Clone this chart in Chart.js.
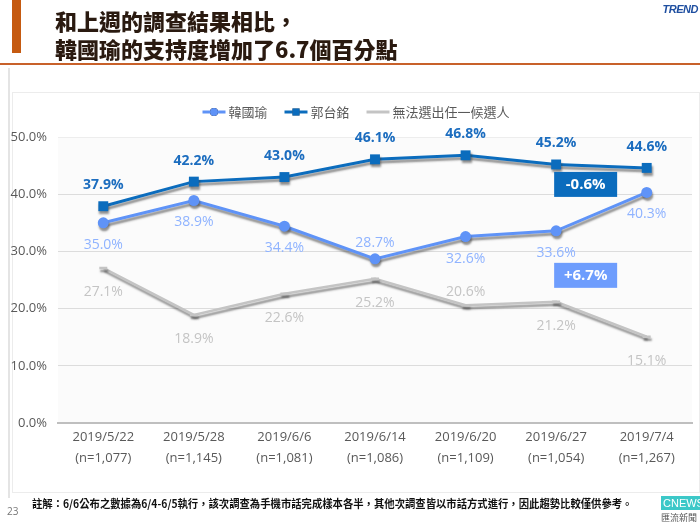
<!DOCTYPE html>
<html>
<head>
<meta charset="utf-8">
<script src="https://cdn.jsdelivr.net/npm/chart.js@4"></script>
<style>
  html, body { margin: 0; padding: 0; background: #fff; }
  body { width: 700px; height: 522px; position: relative; overflow: hidden; font-family: 'Noto Sans CJK TC', sans-serif; }
  #chart { position: absolute; left: 0; top: 0; width: 700px; height: 522px; }
  .bar { position: absolute; left: 12px; top: 0; width: 9px; height: 53px; background: #c55a11; }
  .rule { position: absolute; left: 0; top: 63px; width: 700px; height: 2px; background: #c8612a; }
  .edge { position: absolute; left: 8px; top: 68px; width: 2px; height: 430px; background: #e4e4e4; }
  .title { position: absolute; left: 55px; top: 6px; font-size: 22px; font-weight: 900; line-height: 28px; color: #2a1a10; }
  .logo { position: absolute; right: 2px; top: 3px; font: italic 900 11px 'Liberation Sans', sans-serif; color: #1f4fa0; letter-spacing: -0.5px; }
  .note { position: absolute; left: 32px; top: 495px; font-size: 11px; font-weight: 700; color: #111; white-space: nowrap; transform: scaleX(0.94); transform-origin: left top; }
  .page { position: absolute; left: 7px; top: 504px; font: 10px 'Open Sans', sans-serif; color: #777; }
  .cnews { position: absolute; left: 661px; top: 496px; width: 39px; height: 14px; background: #3cc8c8; color: #fff; font: 11px 'Liberation Sans', sans-serif; line-height: 14px; padding-left: 2px; }
  .cnews2 { position: absolute; left: 661px; top: 511px; font-size: 9px; color: #555; }
</style>
</head>
<body>
<canvas id="chart" width="700" height="522"></canvas>
<div class="bar"></div>
<div class="rule"></div>
<div class="edge"></div>
<div class="title">和上週的調查結果相比，<br>韓國瑜的支持度增加了6.7個百分點</div>
<div class="logo">TREND</div>
<div class="note">註解：6/6公布之數據為6/4-6/5執行，該次調查為手機市話完成樣本各半，其他次調查皆以市話方式進行，因此趨勢比較僅供參考。</div>
<div class="page">23</div>
<div class="cnews">CNEWS</div>
<div class="cnews2">匯流新聞網</div>
<script>
// survey dates and sample sizes
const dates = ['2019/5/22', '2019/5/28', '2019/6/6', '2019/6/14', '2019/6/20', '2019/6/27', '2019/7/4'];
const samples = ['(n=1,077)', '(n=1,145)', '(n=1,081)', '(n=1,086)', '(n=1,109)', '(n=1,054)', '(n=1,267)'];

// support, %
const han = [35.0, 38.9, 34.4, 28.7, 32.6, 33.6, 40.3];
const kuo = [37.9, 42.2, 43.0, 46.1, 46.8, 45.2, 44.6];
const none = [27.1, 18.9, 22.6, 25.2, 20.6, 21.2, 15.1];

const seriesNames = ['韓國瑜', '郭台銘', '無法選出任一候選人'];
const yTicks = [0, 10, 20, 30, 40, 50];

// change boxes: text, category index, value level
const changes = [
  { text: '-0.6%', at: 5, level: 41.8, color: '#0b6cbd' },
  { text: '+6.7%', at: 5, level: 25.9, color: '#6e9dfd' }
];

const FONT = "'Open Sans', 'Noto Sans CJK TC', sans-serif";

// label above (-1) or below (1) the point
const place = [
  [1, 1, 1, -1, 1, 1, 1],
  [-1, -1, -1, -1, -1, -1, -1],
  [1, 1, 1, 1, -1, 1, 1]
];
const labelStyle = [
  { color: '#8fb3ff', weight: '400', below: 22, above: 16 },
  { color: '#1c6dbf', weight: '700', below: 22, above: 21 },
  { color: '#c4c4c4', weight: '400', below: 24, above: 13 }
];

const bgPlugin = {
  id: 'bg',
  beforeDraw(chart) {
    const { ctx, chartArea: a } = chart;
    ctx.save();
    ctx.strokeStyle = '#ececec';
    ctx.lineWidth = 1;
    ctx.strokeRect(12.5, 92.5, 687, 400);
    ctx.fillStyle = '#fbfbfb';
    ctx.fillRect(a.left, a.top, a.right - a.left, a.bottom - a.top);
    ctx.restore();
  }
};

const shadowPlugin = {
  id: 'shadow',
  beforeDatasetDraw(chart) {
    const ctx = chart.ctx;
    ctx.save();
    ctx.shadowColor = 'rgba(60,60,60,0.55)';
    ctx.shadowBlur = 2;
    ctx.shadowOffsetX = 1;
    ctx.shadowOffsetY = 3;
  },
  afterDatasetDraw(chart) {
    chart.ctx.restore();
  }
};

const labelPlugin = {
  id: 'labels',
  afterDatasetsDraw(chart) {
    const ctx = chart.ctx;
    ctx.save();
    ctx.textAlign = 'center';
    ctx.textBaseline = 'middle';
    chart.data.datasets.forEach((ds, d) => {
      const meta = chart.getDatasetMeta(d);
      const st = labelStyle[d];
      ctx.fillStyle = st.color;
      ctx.font = st.weight + ' 14px ' + FONT;
      meta.data.forEach((pt, i) => {
        const dy = place[d][i] > 0 ? st.below : -st.above;
        ctx.fillText(ds.data[i].toFixed(1) + '%', pt.x, pt.y + dy);
      });
    });
    // change boxes
    const xs = chart.scales.x, ys = chart.scales.y;
    changes.forEach(c => {
      const x0 = xs.getPixelForValue(c.at) - 2;
      const yc = ys.getPixelForValue(c.level);
      ctx.fillStyle = c.color;
      ctx.fillRect(x0, yc - 12, 63, 25);
      ctx.fillStyle = '#fff';
      ctx.font = '700 15px ' + FONT;
      ctx.fillText(c.text, x0 + 31.5, yc + 0.5);
    });
    ctx.restore();
  }
};

const legendPlugin = {
  id: 'legendLine',
  afterDraw(chart) {
    const ctx = chart.ctx;
    ctx.save();
    ctx.font = '13px ' + FONT;
    ctx.textBaseline = 'middle';
    const seg = 23, gap = 3, space = 17;
    const widths = chart.data.datasets.map(ds => seg + gap + ctx.measureText(ds.label).width);
    const total = widths.reduce((s, w) => s + w, 0) + space * (widths.length - 1);
    let x = 356 - total / 2;
    const y = 112;
    chart.data.datasets.forEach((ds, d) => {
      ctx.strokeStyle = ds.borderColor;
      ctx.lineWidth = 3;
      ctx.beginPath();
      ctx.moveTo(x, y);
      ctx.lineTo(x + seg, y);
      ctx.stroke();
      if (ds.pointStyle !== 'line') {
        Chart.helpers.drawPoint(ctx, {
          pointStyle: ds.pointStyle,
          radius: ds.pointStyle === 'rect' ? 5 : 4,
          borderWidth: 0
        }, x + seg / 2, y);
        ctx.fillStyle = ds.borderColor;
        ctx.fill();
      }
      ctx.fillStyle = '#595959';
      ctx.fillText(ds.label, x + seg + gap, y + 1);
      x += widths[d] + space;
    });
    ctx.restore();
  }
};

new Chart(document.getElementById('chart'), {
  type: 'line',
  data: {
    labels: dates.map((d, i) => [d, samples[i]]),
    datasets: [
      {
        label: seriesNames[0], data: han,
        borderColor: '#5f93f7', backgroundColor: '#5f93f7',
        borderWidth: 3, pointStyle: 'circle', pointRadius: 5.5, pointBorderWidth: 0, tension: 0
      },
      {
        label: seriesNames[1], data: kuo,
        borderColor: '#0b6cbd', backgroundColor: '#0b6cbd',
        borderWidth: 3, pointStyle: 'rect', pointRadius: 7, pointBorderWidth: 0, tension: 0
      },
      {
        label: seriesNames[2], data: none,
        borderColor: '#c4c4c4', backgroundColor: '#c4c4c4',
        borderWidth: 2.5, pointStyle: 'line', pointRadius: 4, pointBorderWidth: 2.5, tension: 0
      }
    ]
  },
  options: {
    responsive: false,
    animation: false,
    layout: { padding: { left: 0, right: 8, top: 137, bottom: 39 } },
    plugins: {
      legend: { display: false },
      tooltip: { enabled: false }
    },
    scales: {
      x: {
        offset: true,
        grid: { display: false, drawTicks: false },
        border: { color: '#bfbfbf', width: 2 },
        ticks: {
          color: '#595959', padding: 4,
          font: { family: FONT, size: 13, lineHeight: 1.6 },
          maxRotation: 0, autoSkip: false
        },
        afterFit(s) { s.height = 60; }
      },
      y: {
        min: 0, max: 50,
        afterBuildTicks(s) { s.ticks = yTicks.map(v => ({ value: v })); },
        grid: {
          drawTicks: false,
          color: c => c.tick.value === 50 ? '#ededed' : '#dcdcdc'
        },
        border: { display: false },
        ticks: {
          color: '#595959', padding: 11,
          font: { family: FONT, size: 13 },
          callback: v => v.toFixed(1) + '%'
        },
        afterFit(s) { s.width = 58; }
      }
    }
  },
  plugins: [bgPlugin, shadowPlugin, labelPlugin, legendPlugin]
});
</script>
</body>
</html>
